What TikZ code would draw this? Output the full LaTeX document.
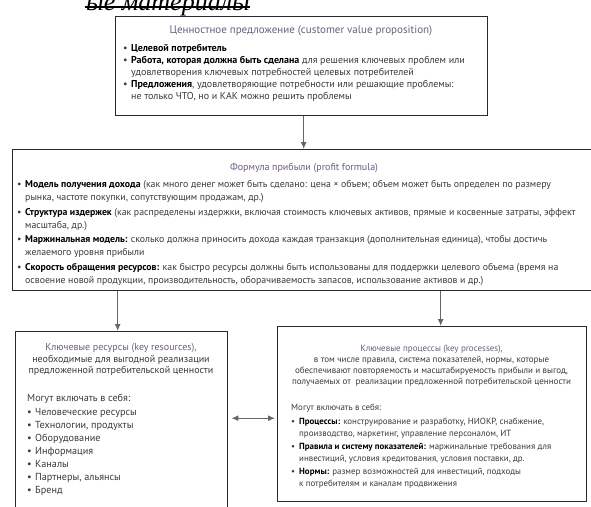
\documentclass[tikz,border=0pt]{standalone}
\usepackage{fontspec}
\setmainfont{PT Sans}
\newfontfamily\headfont{Liberation Serif}
\usetikzlibrary{arrows.meta}
\definecolor{frame}{HTML}{2A2A2A}
\definecolor{ttlc}{HTML}{6E5C82}
\definecolor{txtc}{HTML}{3A3A3A}
\definecolor{arrc}{HTML}{666666}
\newcommand{\bl}{\makebox[8pt][l]{\textbullet}}
\newcommand{\ind}{\hspace*{8pt}}
\tikzset{
  boxnode/.style={draw=frame, line width=1.4pt, anchor=north west, inner sep=0pt},
  ttlnode/.style={text=ttlc, inner sep=0pt, align=center},
  bodynode/.style={text=txtc, align=left, inner sep=0pt, anchor=north west},
  conn/.style={draw=arrc, line width=1.2pt, -{Latex[length=7pt,width=6pt]}},
  dconn/.style={draw=arrc, line width=1.2pt, {Latex[length=7pt,width=6pt]}-{Latex[length=7pt,width=6pt]}}
}
\begin{document}
\begin{tikzpicture}[x=1pt,y=-1pt]
\useasboundingbox (0,0) rectangle (591,506);
\fill[white] (0,0) rectangle (591,506);

% heading (cut at the top, as in the scan)
\node[font=\headfont\itshape\fontsize{26}{26}\selectfont, anchor=base west, inner sep=0pt] (hd) at (86,10.5) {ые материалы};
\draw[line width=1.6pt] (hd.base west) ++(-1,-3.5) coordinate (ul1) -- (ul1 -| hd.base east);

% boxes
\node[boxnode, minimum width=372pt, minimum height=99pt] (cvp) at (115,16) {};
\node[boxnode, minimum width=600pt, minimum height=141pt] (pf) at (12,149) {};
\node[boxnode, minimum width=212pt, minimum height=200pt] (kr) at (15,331) {};
\node[boxnode, minimum width=309pt, minimum height=175pt] (kp) at (277,326) {};

% top box text
\node[ttlnode, font=\fontsize{11}{13}\selectfont] (cvpt) at (301,31) {Ценностное предложение (customer value proposition)};
\node[bodynode, font=\fontsize{10}{11.5}\selectfont] (cvpb) at (123,44) {%
\bl\textbf{\color{black}Целевой потребитель}\\[1pt]
\bl\textbf{\color{black}Работа, которая должна быть сделана} для решения ключевых проблем или\\
\ind удовлетворения ключевых потребностей целевых потребителей\\[1pt]
\bl\textbf{\color{black}Предложения}, удовлетворяющие потребности или решающие проблемы:\\
\ind не только ЧТО, но и КАК можно решить проблемы};

% formula box text
\node[ttlnode, font=\fontsize{10}{12}\selectfont] (pft) at (304,168) {Формула прибыли (profit formula)};
\node[bodynode, font=\fontsize{9.8}{13}\selectfont] (pfb) at (17,180.5) {%
\bl\textbf{\color{black}Модель получения дохода} (как много денег может быть сделано: цена × объем; объем может быть определен по размеру\\
\ind рынка, частоте покупки, сопутствующим продажам, др.)\\[1.5pt]
\bl\textbf{\color{black}Структура издержек} (как распределены издержки, включая стоимость ключевых активов, прямые и косвенные затраты, эффект\\
\ind масштаба, др.)\\[1.5pt]
\bl\textbf{\color{black}Маржинальная модель:} сколько должна приносить дохода каждая транзакция (дополнительная единица), чтобы достичь\\
\ind желаемого уровня прибыли\\[1.5pt]
\bl\textbf{\color{black}Скорость обращения ресурсов:} как быстро ресурсы должны быть использованы для поддержки целевого объема (время на\\
\ind освоение новой продукции, производительность, оборачиваемость запасов, использование активов и др.)};

% left box text
\node[ttlnode, font=\fontsize{10}{11.5}\selectfont, anchor=north] (krt) at (121,343.5) {Ключевые ресурсы (key resources),\\
\color{txtc}необходимые для выгодной реализации\\
\color{txtc}предложенной потребительской ценности};
\node[bodynode, font=\fontsize{10.2}{13}\selectfont] (krb) at (27,394) {%
Могут включать в себя:\\[1pt]
\bl Человеческие ресурсы\\
\bl Технологии, продукты\\
\bl Оборудование\\
\bl Информация\\
\bl Каналы\\
\bl Партнеры, альянсы\\
\bl Бренд};

% right box text
\node[ttlnode, font=\fontsize{9}{11}\selectfont, anchor=north] (kpt) at (431.5,344.5) {Ключевые процессы (key processes),\\
\color{txtc}в том числе правила, система показателей, нормы, которые\\
\color{txtc}обеспечивают повторяемость и масштабируемость прибыли и выгод,\\
\color{txtc}получаемых от \ реализации предложенной потребительской ценности};
\node[bodynode, font=\fontsize{8.9}{12.5}\selectfont] (kpb) at (291,404) {%
Могут включать в себя:\\[1pt]
\bl\textbf{\color{black}Процессы:} конструирование и разработку, НИОКР, снабжение,\\
\ind производство, маркетинг, управление персоналом, ИТ\\
\bl\textbf{\color{black}Правила и систему показателей:} маржинальные требования для\\
\ind инвестиций, условия кредитования, условия поставки, др.\\
\bl\textbf{\color{black}Нормы:} размер возможностей для инвестиций, подходы\\
\ind к потребителям и каналам продвижения};

% connectors
\draw[conn] ([xshift=2pt]cvp.south) -- ([xshift=2pt]cvp.south |- pf.north);
\draw[conn] ([xshift=-4pt]kr.north |- pf.south) -- ([xshift=-4pt]kr.north);
\draw[conn] ([xshift=8.5pt]kp.north |- pf.south) -- ([xshift=8.5pt]kp.north);
\draw[dconn] ([yshift=-4pt]kp.west -| kr.east) ++(3,0) coordinate (da) -- ([yshift=-4pt,xshift=-2pt]kp.west);
\end{tikzpicture}
\end{document}
